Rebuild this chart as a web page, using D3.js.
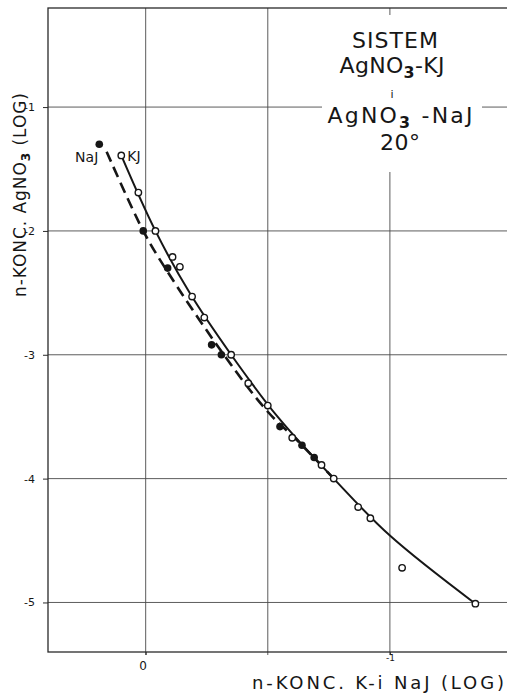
<!DOCTYPE html>
<html><head><meta charset="utf-8">
<script src="https://cdn.jsdelivr.net/npm/d3@7/dist/d3.min.js"></script>
<style>html,body{margin:0;padding:0;background:#fff;} svg{display:block}</style>
</head><body>
<svg id="c" width="507" height="698"></svg>
<script>
// ---- data ----
const yTicks = [-1, -2, -3, -4, -5];
const yTickLabels = ["-1", "-2", "-3", "-4", "-5"];
const xTicks = [0, -1];
const xTickLabels = ["0", "-1"];
const xGrid = [0, -0.5, -1];

// KJ series (open circles, solid line)
const kjX = [0.10, 0.03, -0.04, -0.11, -0.14, -0.19, -0.24, -0.35, -0.42, -0.50, -0.60, -0.72, -0.77, -0.87, -0.92, -1.05, -1.35];
const kjY = [-1.39, -1.69, -2.00, -2.21, -2.29, -2.53, -2.70, -3.00, -3.23, -3.41, -3.67, -3.89, -4.00, -4.23, -4.32, -4.72, -5.01];
// NaJ series (filled circles, dashed line)
const najX = [0.19, 0.01, -0.09, -0.27, -0.31, -0.55, -0.64, -0.69];
const najY = [-1.30, -2.00, -2.30, -2.92, -3.00, -3.58, -3.73, -3.83];

// fitted curves drawn in the reference
const kjCurveX = [0.10, -0.04, -0.18, -0.35, -0.54, -0.77, -1.00, -1.35];
const kjCurveY = [-1.39, -2.00, -2.50, -3.00, -3.50, -4.00, -4.46, -5.01];
const najCurveX = [0.16, 0.01, -0.08, -0.32, -0.50, -0.63, -0.78];
const najCurveY = [-1.36, -2.00, -2.30, -3.00, -3.46, -3.71, -4.02];

const seriesLabels = ["KJ", "NaJ"];
// title lines: [text, subscript, rest]
const titleLines = [["SISTEM", "", ""], ["AgNO", "3", "-KJ"], ["i", "", ""], ["AgNO", "3", " -NaJ"], ["20°", "", ""]];
const xTitle = "n-KONC. K-i NaJ (LOG)";
const yTitle = ["n-KONC. AgNO", "3", " (LOG)"];

// ---- drawing ----
const svg = d3.select("#c");
const ink = "#161616";
const font = "'DejaVu Sans', sans-serif";

const x = d3.scaleLinear().domain([0.4, -1.5]).range([48, 512]);
const y = d3.scaleLinear().domain([-0.2, -5.4]).range([8, 652]);

svg.append("rect").attr("width", 507).attr("height", 698).attr("fill", "#fff");

// grid
const g = svg.append("g");
g.selectAll("line.h").data(yTicks).join("line")
  .attr("x1", x.range()[0]).attr("x2", x.range()[1])
  .attr("y1", d => y(d)).attr("y2", d => y(d))
  .attr("stroke", "#4a4a4a").attr("stroke-width", 0.9);
g.selectAll("line.v").data(xGrid).join("line")
  .attr("x1", d => x(d)).attr("x2", d => x(d))
  .attr("y1", y.range()[0]).attr("y2", y.range()[1] + 3)
  .attr("stroke", "#4a4a4a").attr("stroke-width", 0.9);

// frame
svg.append("rect")
  .attr("x", x.range()[0]).attr("y", y.range()[0])
  .attr("width", x.range()[1] - x.range()[0]).attr("height", y.range()[1] - y.range()[0])
  .attr("fill", "none").attr("stroke", "#2a2a2a").attr("stroke-width", 1.3);

function richText(parent, parts, size) {
  const t = parent.append("text").attr("font-family", font).attr("font-size", size).attr("fill", ink);
  t.append("tspan").text(parts[0]);
  if (parts[1]) {
    t.append("tspan").attr("font-size", size * 0.72).attr("dy", size * 0.22).attr("font-weight", "bold").text(parts[1]);
    t.append("tspan").attr("dy", -size * 0.22).text(parts[2]);
  }
  return t;
}

// title block (blanks the grid behind it)
svg.append("rect").attr("x", 322).attr("y", 15).attr("width", 160).attr("height", 157).attr("fill", "#fff");
const tPos = [[395, 48, 22], [392, 73, 22], [392, 98, 11], [400, 123, 22], [400, 150, 22]];
const tLen = [86, 105, null, 145, 40];
titleLines.forEach((p, i) => {
  const el = richText(svg, p, tPos[i][2]).attr("x", tPos[i][0]).attr("y", tPos[i][1])
    .attr("text-anchor", "middle");
  if (tLen[i]) el.attr("textLength", tLen[i]).attr("lengthAdjust", "spacing");
});

// axes
const yAxis = d3.axisLeft(y).tickValues(yTicks).tickFormat((d, i) => yTickLabels[i])
  .tickSize(5).tickPadding(8);
const ya = svg.append("g").attr("transform", `translate(${x.range()[0]},0)`).call(yAxis);
ya.select(".domain").remove();
ya.selectAll("line").attr("stroke", "#2a2a2a");
ya.selectAll("text").attr("font-family", font).attr("font-size", 11).attr("fill", ink);

const xAxis = d3.axisBottom(x).tickValues(xTicks).tickFormat((d, i) => xTickLabels[i])
  .tickSize(3).tickPadding(5);
const xa = svg.append("g").attr("transform", `translate(0,${y.range()[1]})`).call(xAxis);
xa.select(".domain").remove();
xa.selectAll("line").attr("stroke", "#2a2a2a");
xa.selectAll("text").attr("font-family", font).attr("fill", ink)
  .attr("font-size", (d, i) => i === 0 ? 12 : 9)
  .attr("dx", (d, i) => i === 0 ? -3 : 0)
  .attr("y", (d, i) => i === 0 ? 9 : 3);

// axis titles
svg.append("text").attr("x", 252).attr("y", 689)
  .attr("font-family", font).attr("font-size", 18).attr("fill", ink)
  .attr("textLength", 252).attr("lengthAdjust", "spacing").text(xTitle);
richText(svg, yTitle, 17).attr("transform", "translate(26,195) rotate(-90)")
  .attr("text-anchor", "middle")
  .attr("textLength", 204).attr("lengthAdjust", "spacing");

// curves
const kjCurve = kjCurveX.map((v, i) => [v, kjCurveY[i]]);
const najCurve = najCurveX.map((v, i) => [v, najCurveY[i]]);
const line = d3.line().x(d => x(d[0])).y(d => y(d[1])).curve(d3.curveCatmullRom.alpha(0.5));
svg.append("path").attr("d", line(najCurve)).attr("fill", "none")
  .attr("stroke", ink).attr("stroke-width", 2.6).attr("stroke-dasharray", "11,6");
svg.append("path").attr("d", line(kjCurve)).attr("fill", "none")
  .attr("stroke", ink).attr("stroke-width", 2);

// markers
const naj = najX.map((v, i) => [v, najY[i]]);
const kj = kjX.map((v, i) => [v, kjY[i]]);
svg.selectAll("circle.naj").data(naj).join("circle")
  .attr("cx", d => x(d[0])).attr("cy", d => y(d[1])).attr("r", 3.8).attr("fill", ink);
svg.selectAll("circle.kj").data(kj).join("circle")
  .attr("cx", d => x(d[0])).attr("cy", d => y(d[1])).attr("r", 3.2)
  .attr("fill", "#fff").attr("stroke", ink).attr("stroke-width", 1.4);

// series labels
svg.append("text").attr("x", x(kjX[0]) + 6).attr("y", y(kjY[0]) + 6)
  .attr("font-family", font).attr("font-size", 14).attr("fill", ink).text(seriesLabels[0]);
svg.append("text").attr("x", x(najX[0]) - 1).attr("y", y(najY[0]) + 18)
  .attr("text-anchor", "end")
  .attr("font-family", font).attr("font-size", 14).attr("fill", ink).text(seriesLabels[1]);
</script>
</body></html>
